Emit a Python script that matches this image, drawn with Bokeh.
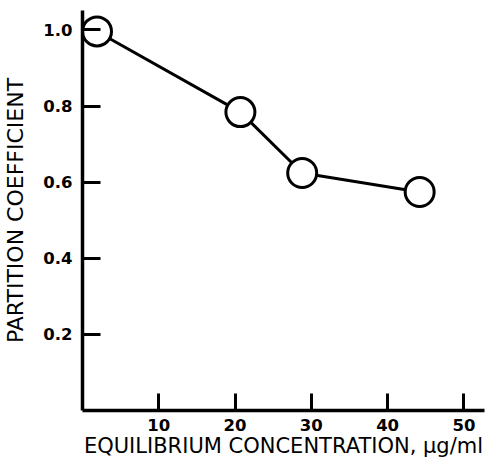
from bokeh.plotting import figure
from bokeh.embed import file_html
from bokeh.resources import INLINE
from bokeh.models import FixedTicker, Range1d, NumeralTickFormatter

# Data
conc = [1.9, 20.7, 28.8, 44.2]          # equilibrium concentration, ug/ml
partition = [0.996, 0.784, 0.624, 0.574]  # partition coefficient
x_ticks = [10, 20, 30, 40, 50]
y_ticks = [0.2, 0.4, 0.6, 0.8, 1.0]

p = figure(frame_width=402, frame_height=400, output_backend="svg",
           toolbar_location=None,
           x_range=Range1d(0, 52.7), y_range=Range1d(0, 1.051),
           min_border_left=75, min_border_top=10, min_border_right=8,
           min_border_bottom=44)
p.outline_line_color = None
p.xgrid.visible = False
p.ygrid.visible = False
p.background_fill_color = "white"
p.border_fill_color = "white"

p.line(conc, partition, line_color="black", line_width=3)
p.scatter(conc, partition, size=29, fill_color="white", line_color="black",
          line_width=3)

for ax in (p.xaxis[0], p.yaxis[0]):
    ax.axis_line_width = 3.5
    ax.axis_line_color = "black"
    ax.major_tick_line_width = 3
    ax.major_tick_line_color = "black"
    ax.major_tick_out = 0
    ax.minor_tick_line_color = None
    ax.major_label_text_font = "DejaVu Sans"
    ax.major_label_text_font_style = "bold"
    ax.major_label_text_font_size = "16.5px"
    ax.major_label_text_color = "black"
    ax.axis_label_text_font = "DejaVu Sans"
    ax.axis_label_text_font_style = "normal"
    ax.axis_label_text_color = "black"

p.xaxis[0].axis_label_text_font_size = "21px"
p.yaxis[0].axis_label_text_font_size = "22px"
p.xaxis[0].ticker = FixedTicker(ticks=x_ticks)
p.yaxis[0].ticker = FixedTicker(ticks=y_ticks)
p.yaxis[0].formatter = NumeralTickFormatter(format="0.0")
p.xaxis[0].major_tick_in = 17
p.yaxis[0].major_tick_in = 18
p.xaxis[0].major_label_standoff = 8
p.yaxis[0].major_label_standoff = 10
p.xaxis[0].axis_label = "EQUILIBRIUM CONCENTRATION, \u03bcg/ml"
p.yaxis[0].axis_label = "PARTITION COEFFICIENT"
p.xaxis[0].axis_label_standoff = 0
p.yaxis[0].axis_label_standoff = 12

open("out.html", "w").write(file_html(p, INLINE))
